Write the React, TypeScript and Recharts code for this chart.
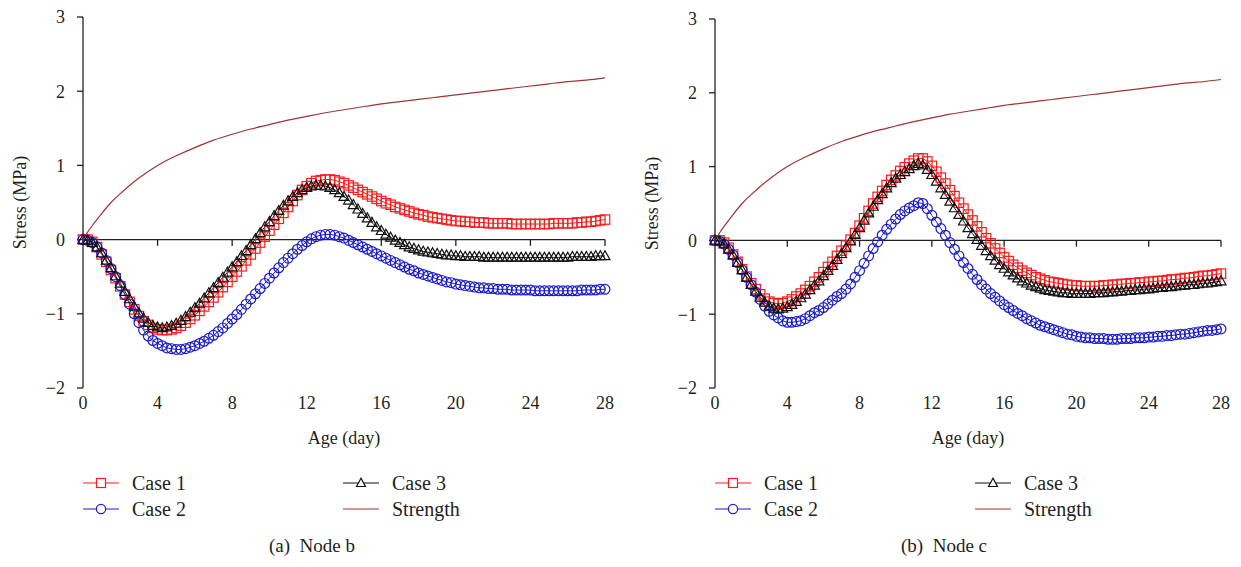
import React from 'react';
import { LineChart, Line, XAxis, YAxis, ReferenceLine } from 'recharts';

// Age (day), one sample every quarter day
const ages = [
  0, 0.25, 0.5, 0.75, 1, 1.25, 1.5, 1.75, 2, 2.25, 2.5, 2.75, 3, 3.25, 3.5, 3.75,
  4, 4.25, 4.5, 4.75, 5, 5.25, 5.5, 5.75, 6, 6.25, 6.5, 6.75, 7, 7.25, 7.5, 7.75,
  8, 8.25, 8.5, 8.75, 9, 9.25, 9.5, 9.75, 10, 10.25, 10.5, 10.75, 11, 11.25, 11.5, 11.75,
  12, 12.25, 12.5, 12.75, 13, 13.25, 13.5, 13.75, 14, 14.25, 14.5, 14.75, 15, 15.25, 15.5, 15.75,
  16, 16.25, 16.5, 16.75, 17, 17.25, 17.5, 17.75, 18, 18.25, 18.5, 18.75, 19, 19.25, 19.5, 19.75,
  20, 20.25, 20.5, 20.75, 21, 21.25, 21.5, 21.75, 22, 22.25, 22.5, 22.75, 23, 23.25, 23.5, 23.75,
  24, 24.25, 24.5, 24.75, 25, 25.25, 25.5, 25.75, 26, 26.25, 26.5, 26.75, 27, 27.25, 27.5, 27.75,
  28,
];

// Node b
const nodeBCase1 = [
  0, 0, -0.03, -0.1, -0.2, -0.3, -0.41, -0.52, -0.63, -0.74, -0.84, -0.94, -1.03, -1.1, -1.15, -1.19,
  -1.21, -1.22, -1.22, -1.21, -1.19, -1.16, -1.12, -1.07, -1.02, -0.96, -0.9, -0.84, -0.78, -0.71, -0.64, -0.57,
  -0.5, -0.43, -0.36, -0.28, -0.2, -0.12, -0.04, 0.04, 0.12, 0.2, 0.28, 0.36, 0.44, 0.52, 0.6, 0.67,
  0.72, 0.76, 0.79, 0.8, 0.81, 0.81, 0.8, 0.78, 0.76, 0.73, 0.7, 0.67, 0.64, 0.61, 0.58, 0.55,
  0.52, 0.49, 0.47, 0.44, 0.42, 0.4, 0.38, 0.36, 0.34, 0.33, 0.31, 0.3, 0.29, 0.28, 0.27, 0.26,
  0.25, 0.25, 0.24, 0.24, 0.23, 0.23, 0.23, 0.22, 0.22, 0.22, 0.22, 0.22, 0.21, 0.21, 0.21, 0.21,
  0.21, 0.21, 0.21, 0.21, 0.21, 0.22, 0.22, 0.22, 0.22, 0.22, 0.23, 0.23, 0.24, 0.24, 0.25, 0.26,
  0.27,
];
const nodeBCase2 = [
  0, -0.01, -0.04, -0.1, -0.18, -0.28, -0.39, -0.5, -0.62, -0.74, -0.87, -1.0, -1.12, -1.22, -1.3, -1.36,
  -1.4, -1.43, -1.46, -1.47, -1.48, -1.48, -1.47, -1.45, -1.43, -1.4, -1.37, -1.33, -1.29, -1.24, -1.19, -1.13,
  -1.07, -1.01, -0.94, -0.87, -0.8, -0.73, -0.66, -0.59, -0.52, -0.45, -0.38, -0.31, -0.25, -0.19, -0.13, -0.08,
  -0.03, 0.01, 0.04, 0.06, 0.07, 0.07, 0.06, 0.04, 0.02, -0.01, -0.04, -0.07, -0.1, -0.13, -0.16, -0.19,
  -0.22, -0.25, -0.28, -0.31, -0.34, -0.37, -0.4, -0.42, -0.45, -0.47, -0.49, -0.51, -0.53, -0.55, -0.57, -0.58,
  -0.6, -0.61, -0.62, -0.63, -0.64, -0.65, -0.65, -0.66, -0.66, -0.67, -0.67, -0.67, -0.68, -0.68, -0.68, -0.68,
  -0.68, -0.69, -0.69, -0.69, -0.69, -0.69, -0.69, -0.69, -0.69, -0.69, -0.69, -0.68, -0.68, -0.68, -0.68, -0.67,
  -0.67,
];
const nodeBCase3 = [
  0, -0.01, -0.04, -0.1, -0.18, -0.28, -0.38, -0.49, -0.59, -0.7, -0.8, -0.9, -0.99, -1.06, -1.12, -1.16,
  -1.18, -1.19, -1.18, -1.16, -1.13, -1.09, -1.04, -0.98, -0.92, -0.86, -0.79, -0.72, -0.65, -0.58, -0.51, -0.44,
  -0.37, -0.3, -0.22, -0.15, -0.07, 0.01, 0.09, 0.17, 0.24, 0.32, 0.39, 0.46, 0.52, 0.58, 0.63, 0.67,
  0.7, 0.72, 0.73, 0.73, 0.72, 0.7, 0.67, 0.63, 0.58, 0.53, 0.47, 0.41, 0.35, 0.29, 0.23, 0.17,
  0.12, 0.07, 0.03, -0.01, -0.04, -0.07, -0.1, -0.12, -0.14, -0.16, -0.17, -0.18, -0.19, -0.2, -0.21, -0.21,
  -0.22, -0.22, -0.23, -0.23, -0.23, -0.23, -0.24, -0.24, -0.24, -0.24, -0.24, -0.24, -0.24, -0.24, -0.24, -0.24,
  -0.24, -0.24, -0.24, -0.24, -0.24, -0.24, -0.24, -0.24, -0.24, -0.23, -0.23, -0.23, -0.23, -0.23, -0.22, -0.22,
  -0.22,
];

// Node c
const nodeCCase1 = [
  0, 0, -0.03, -0.1, -0.19, -0.29, -0.39, -0.49, -0.58, -0.66, -0.73, -0.79, -0.83, -0.85, -0.86, -0.85,
  -0.83, -0.8, -0.76, -0.72, -0.67, -0.62, -0.56, -0.5, -0.43, -0.36, -0.29, -0.21, -0.14, -0.07, 0.01, 0.1,
  0.2, 0.3, 0.4, 0.5, 0.59, 0.67, 0.75, 0.82, 0.88, 0.94, 0.99, 1.04, 1.08, 1.11, 1.11, 1.07,
  1.01, 0.93, 0.85, 0.77, 0.68, 0.6, 0.51, 0.43, 0.35, 0.27, 0.19, 0.11, 0.03, -0.04, -0.11, -0.17,
  -0.23, -0.28, -0.33, -0.37, -0.41, -0.44, -0.47, -0.5, -0.52, -0.54, -0.56, -0.57, -0.58, -0.59, -0.6, -0.61,
  -0.61, -0.62, -0.62, -0.62, -0.62, -0.62, -0.61, -0.61, -0.6, -0.6, -0.59, -0.59, -0.58, -0.58, -0.57, -0.57,
  -0.56, -0.56, -0.55, -0.55, -0.54, -0.53, -0.53, -0.52, -0.51, -0.51, -0.5, -0.49, -0.48, -0.48, -0.47, -0.46,
  -0.45,
];
const nodeCCase2 = [
  0, -0.01, -0.05, -0.12, -0.2, -0.3, -0.4, -0.5, -0.6, -0.7, -0.8, -0.89, -0.96, -1.01, -1.05, -1.09,
  -1.11, -1.11, -1.1, -1.09, -1.06, -1.02, -0.98, -0.95, -0.91, -0.86, -0.81, -0.76, -0.72, -0.66, -0.59, -0.5,
  -0.41, -0.31, -0.21, -0.11, -0.02, 0.07, 0.15, 0.22, 0.29, 0.35, 0.4, 0.44, 0.47, 0.51, 0.5, 0.43,
  0.34, 0.25, 0.16, 0.07, -0.03, -0.12, -0.21, -0.3, -0.38, -0.46, -0.53, -0.6, -0.66, -0.72, -0.77, -0.82,
  -0.87, -0.91, -0.95, -0.99, -1.02, -1.06, -1.09, -1.12, -1.15, -1.17, -1.19, -1.21, -1.23, -1.25, -1.27, -1.28,
  -1.3, -1.31, -1.32, -1.32, -1.33, -1.33, -1.33, -1.34, -1.34, -1.34, -1.33, -1.33, -1.33, -1.32, -1.32, -1.32,
  -1.31, -1.31, -1.3, -1.3, -1.29, -1.29, -1.28, -1.27, -1.27, -1.26, -1.25, -1.24, -1.23, -1.22, -1.22, -1.21,
  -1.2,
];
const nodeCCase3 = [
  0, -0.01, -0.05, -0.12, -0.2, -0.3, -0.4, -0.5, -0.6, -0.69, -0.77, -0.84, -0.89, -0.92, -0.93, -0.92,
  -0.9, -0.87, -0.83, -0.78, -0.73, -0.67, -0.61, -0.55, -0.48, -0.41, -0.34, -0.26, -0.18, -0.1, -0.01, 0.08,
  0.17, 0.27, 0.37, 0.46, 0.55, 0.63, 0.71, 0.78, 0.84, 0.89, 0.93, 0.97, 1.01, 1.04, 1.02, 0.96,
  0.89, 0.8, 0.71, 0.62, 0.53, 0.44, 0.35, 0.26, 0.17, 0.09, 0.01, -0.07, -0.14, -0.21, -0.27, -0.33,
  -0.38, -0.43, -0.47, -0.51, -0.55, -0.58, -0.61, -0.63, -0.65, -0.67, -0.68, -0.69, -0.7, -0.71, -0.71, -0.72,
  -0.72, -0.72, -0.72, -0.72, -0.71, -0.71, -0.71, -0.7, -0.7, -0.69, -0.69, -0.68, -0.68, -0.67, -0.67, -0.66,
  -0.66, -0.65, -0.64, -0.64, -0.63, -0.63, -0.62, -0.61, -0.61, -0.6, -0.6, -0.59, -0.58, -0.58, -0.57, -0.56,
  -0.55,
];

// Strength curve (same for both nodes)
const strengthAges = [0, 0.25, 0.5, 1, 1.5, 2, 2.5, 3, 4, 5, 6, 7, 8, 9, 10, 11, 12, 13, 14, 15, 16, 17, 18, 19, 20, 21, 22, 23, 24, 25, 26, 27, 28];
const strengthValues = [0, 0.1, 0.19, 0.35, 0.5, 0.62, 0.73, 0.83, 1.0, 1.13, 1.24, 1.34, 1.42, 1.49, 1.55, 1.61, 1.66, 1.71, 1.75, 1.79, 1.83, 1.86, 1.89, 1.92, 1.95, 1.98, 2.01, 2.04, 2.07, 2.1, 2.13, 2.15, 2.18];

const xTicks = [0, 4, 8, 12, 16, 20, 24, 28];
const yTicks = [-2, -1, 0, 1, 2, 3];

const RED = '#ff1a1a';
const BLUE = '#1a1acc';
const BLACK = '#111111';
const BROWN = '#9e3434';
const INK = '#231f20';
const FONT = '"Liberation Serif", "Times New Roman", serif';

const strengthData = strengthAges.map((age, i) => ({ age, strength: strengthValues[i] }));

const buildRows = (c1: number[], c2: number[], c3: number[]) =>
  ages.map((age, i) => ({ age, case1: c1[i], case2: c2[i], case3: c3[i] }));

const fmtY = (v: number) => (v < 0 ? `\u2212${Math.abs(v)}` : `${v}`);

const squareDot = (p: any) => {
  if (p.cx == null || p.cy == null) return <g key={`sq-${p.index}`} />;
  return <rect key={`sq-${p.index}`} x={p.cx - 4.7} y={p.cy - 4.7} width={9.4} height={9.4} fill="none" stroke={RED} strokeWidth={1.2} />;
};
const circleDot = (p: any) => {
  if (p.cx == null || p.cy == null) return <g key={`ci-${p.index}`} />;
  return <circle key={`ci-${p.index}`} cx={p.cx} cy={p.cy} r={4.9} fill="none" stroke={BLUE} strokeWidth={1.2} />;
};
const triangleDot = (p: any) => {
  if (p.cx == null || p.cy == null) return <g key={`tr-${p.index}`} />;
  const { cx, cy } = p;
  return <path key={`tr-${p.index}`} d={`M${cx},${cy - 5.2} L${cx + 5},${cy + 3.8} L${cx - 5},${cy + 3.8} Z`} fill="none" stroke={BLACK} strokeWidth={1.2} />;
};

const LegendItem = ({ label, color, marker }: { label: string; color: string; marker?: string }) => (
  <div style={{ display: 'flex', alignItems: 'center', height: 26 }}>
    <svg width={36} height={14} style={{ marginRight: 13 }}>
      <line x1={0} y1={7} x2={36} y2={7} stroke={color} strokeWidth={1.2} />
      {marker === 'square' && <rect x={13.5} y={2.5} width={9} height={9} fill="#fff" stroke={color} strokeWidth={1.2} />}
      {marker === 'circle' && <circle cx={18} cy={7} r={4.6} fill="#fff" stroke={color} strokeWidth={1.2} />}
      {marker === 'triangle' && <path d="M18,2.2 L22.5,10.5 L13.5,10.5 Z" fill="#fff" stroke={color} strokeWidth={1.2} />}
    </svg>
    <span style={{ fontFamily: FONT, fontSize: 20, color: INK }}>{label}</span>
  </div>
);

const Panel = ({ left, top, width, rows, caption }: any) => (
  <div style={{ position: 'absolute', left, top: 0, width, height: 567, fontFamily: FONT }}>
    <LineChart width={width} height={450} data={rows} margin={{ top, right: 15, bottom: 0, left: 0 }} style={{ fontFamily: FONT }}>
      <XAxis
        dataKey="age"
        type="number"
        domain={[0, 28]}
        ticks={xTicks}
        axisLine={false}
        tickLine={false}
        height={62}
        tick={{ fill: INK, fontSize: 18, fontFamily: FONT }}
        label={{ value: 'Age (day)', position: 'insideBottom', offset: 6, fill: INK, fontSize: 18, fontFamily: FONT }}
      />
      <YAxis
        type="number"
        domain={[-2, 3]}
        ticks={yTicks}
        width={83}
        tickSize={6}
        tickMargin={12}
        tickFormatter={fmtY}
        axisLine={{ stroke: INK, strokeWidth: 1.3 }}
        tickLine={{ stroke: INK, strokeWidth: 1.3 }}
        tick={{ fill: INK, fontSize: 18, fontFamily: FONT }}
        label={{ value: 'Stress (MPa)', angle: -90, position: 'center', dx: -22, fill: INK, fontSize: 18, fontFamily: FONT }}
      />
      <ReferenceLine y={0} stroke={INK} strokeWidth={1.3} />
      {xTicks.slice(1).map(t => (
        <ReferenceLine key={`xt-${t}`} segment={[{ x: t, y: 0 }, { x: t, y: -0.085 }]} stroke={INK} strokeWidth={1.3} />
      ))}
      <Line dataKey="case1" type="linear" stroke={RED} strokeWidth={1} dot={squareDot} isAnimationActive={false} />
      <Line dataKey="case2" type="linear" stroke={BLUE} strokeWidth={1} dot={circleDot} isAnimationActive={false} />
      <Line dataKey="case3" type="linear" stroke={BLACK} strokeWidth={1} dot={triangleDot} isAnimationActive={false} />
      <Line data={strengthData} dataKey="strength" type="natural" stroke={BROWN} strokeWidth={1.2} dot={false} isAnimationActive={false} />
    </LineChart>
    <div style={{ position: 'absolute', left: 83, top: 470 }}>
      <LegendItem label="Case 1" color={RED} marker="square" />
      <LegendItem label="Case 2" color={BLUE} marker="circle" />
    </div>
    <div style={{ position: 'absolute', left: 343, top: 470 }}>
      <LegendItem label="Case 3" color={BLACK} marker="triangle" />
      <LegendItem label="Strength" color={BROWN} />
    </div>
    <div style={{ position: 'absolute', left: 0, width: 624, top: 535, textAlign: 'center', fontFamily: FONT, fontSize: 19, color: INK, whiteSpace: 'pre' }}>
      {caption}
    </div>
  </div>
);

const App = () => (
  <div style={{ position: 'absolute', left: 0, top: 0, width: 1241, height: 567, background: '#fff' }}>
    <Panel left={0} top={17} width={620} rows={buildRows(nodeBCase1, nodeBCase2, nodeBCase3)} caption="(a)  Node b" />
    <Panel left={632} top={19} width={604} rows={buildRows(nodeCCase1, nodeCCase2, nodeCCase3)} caption="(b)  Node c" />
  </div>
);

export default App;
